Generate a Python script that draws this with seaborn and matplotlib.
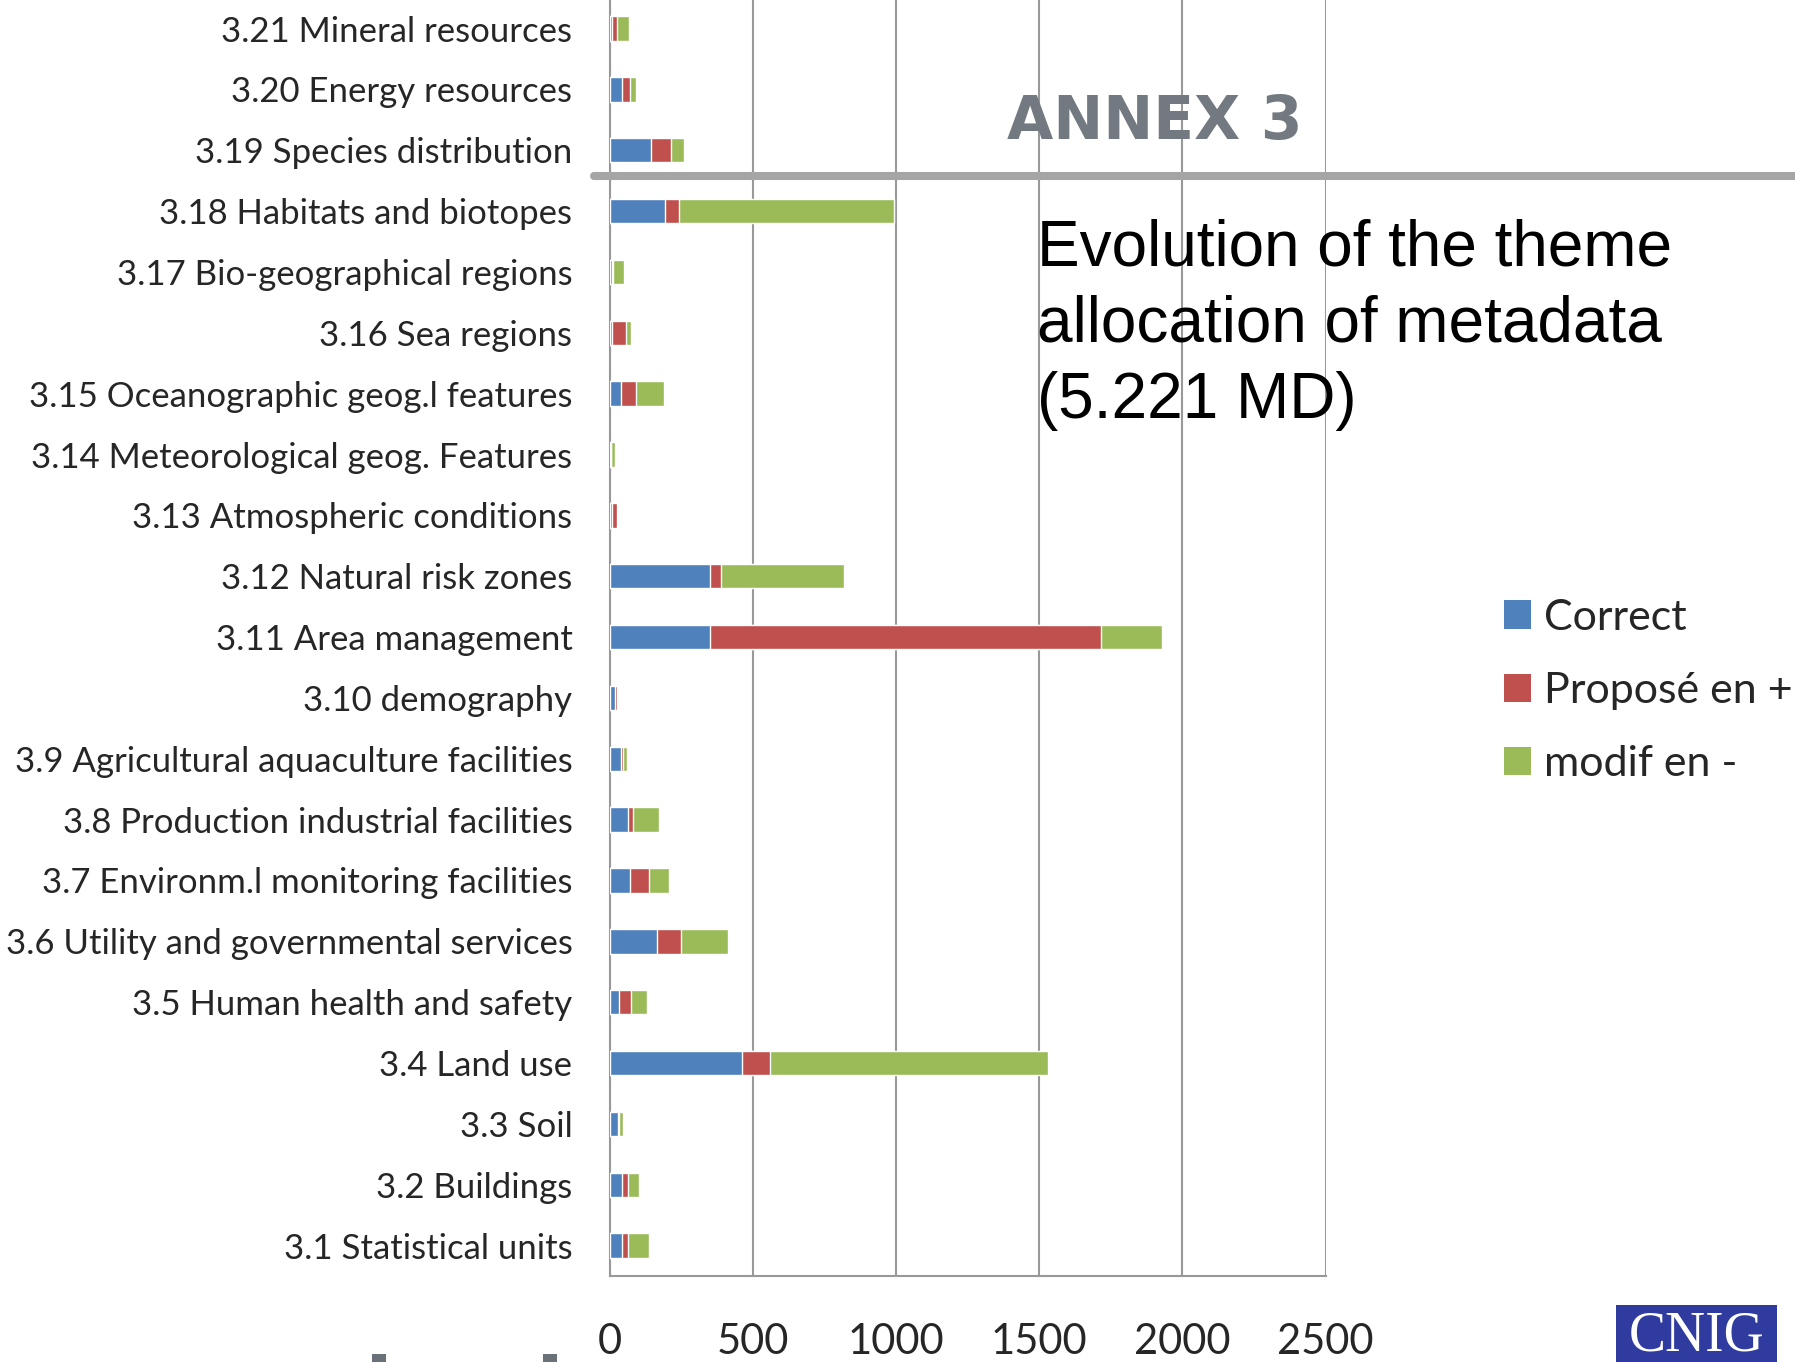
import numpy as np
import pandas as pd
import matplotlib
matplotlib.use("Agg")
import matplotlib.pyplot as plt
from matplotlib.patches import Patch, Rectangle
from matplotlib.lines import Line2D
import seaborn as sns

sns.set_style("white")
plt.rcParams['font.family'] = ['Lato', 'DejaVu Sans']

# themes, top to bottom as in the slide
themes = ["3.21 Mineral resources", "3.20 Energy resources", "3.19 Species distribution",
          "3.18 Habitats and biotopes", "3.17 Bio-geographical regions", "3.16 Sea regions",
          "3.15 Oceanographic geog.l features", "3.14 Meteorological geog. Features",
          "3.13 Atmospheric conditions", "3.12 Natural risk zones", "3.11 Area management",
          "3.10 demography", "3.9 Agricultural aquaculture facilities",
          "3.8 Production industrial facilities", "3.7 Environm.l monitoring facilities",
          "3.6 Utility and governmental services", "3.5 Human health and safety",
          "3.4 Land use", "3.3 Soil", "3.2 Buildings", "3.1 Statistical units"]
correct = [8, 43, 145, 191, 8, 7, 39, 2, 8, 348, 351, 17, 39, 63, 71, 164, 31, 460, 28, 43, 43]
propose = [17, 28, 68, 49, 4, 49, 51, 0, 17, 40, 1365, 8, 8, 16, 65, 84, 44, 100, 3, 19, 19]
modif = [40, 21, 44, 753, 36, 17, 100, 14, 3, 431, 211, 3, 13, 93, 72, 165, 53, 969, 13, 40, 75]
series = ["Correct", "Proposé en +", "modif en -"]
colors = ["#4f81bd", "#c0504d", "#9bbb59"]

df = pd.DataFrame({"theme": themes, "correct": correct, "propose": propose, "modif": modif})
df["cum2"] = df["correct"] + df["propose"]
df["cum3"] = df["cum2"] + df["modif"]

fig = plt.figure(figsize=(17.95, 13.62), dpi=100)
ax = fig.add_axes([0.3398, 0.0631, 0.3987, 0.9383])

# stacked by overlaying cumulative totals
sns.barplot(data=df, y="theme", x="cum3", color=colors[2], width=0.4, orient="h",
            saturation=1, ax=ax, zorder=3)
sns.barplot(data=df, y="theme", x="cum2", color=colors[1], width=0.4, orient="h",
            saturation=1, ax=ax, zorder=3)
sns.barplot(data=df, y="theme", x="correct", color=colors[0], width=0.4, orient="h",
            saturation=1, ax=ax, zorder=3)

ax.set_xlim(0, 2500)
ax.set_ylim(len(themes) - 0.5, -0.5)
ax.set_xticks(np.arange(0, 2501, 500))
ax.set_xlabel("")
ax.set_ylabel("")
ax.grid(axis="x", color="#999999", linewidth=1.5, zorder=0)
ax.grid(axis="y", visible=False)
ax.set_axisbelow(True)
for s in ["top", "right"]:
    ax.spines[s].set_visible(False)
for s in ["left", "bottom"]:
    ax.spines[s].set_color("#999999")
    ax.spines[s].set_linewidth(1.5)

ax.set_yticks(np.arange(-0.5, len(themes), 1), minor=True)
ax.tick_params(axis="y", which="major", length=0, pad=27, labelsize=25)
ax.tick_params(axis="y", which="minor", length=11, width=1.5, color="#999999")
ax.tick_params(axis="x", which="major", length=10, width=1.5, color="#999999",
               pad=24, labelsize=30)

# legend cut by the slide edge
handles = [Patch(facecolor=c, edgecolor="none") for c in colors]
fig.legend(handles, series, loc="upper left", bbox_to_anchor=(0.8379, 0.5605),
           frameon=False, fontsize=31, borderpad=0, borderaxespad=0,
           handlelength=0.63, handleheight=0.63, handletextpad=0.3, labelspacing=0.82)

# slide decorations
fig.add_artist(Line2D([0.331, 1.0], [0.8708, 0.8708], color="#a5a5a5", linewidth=5.8,
                      transform=fig.transFigure, zorder=10))
fig.text(0.561, 0.8983, "ANNEX 3", fontsize=43, fontweight="bold", color="#737980",
         family="DejaVu Sans", va="baseline", ha="left")
for txt, yb in zip(["Evolution of the theme", "allocation of metadata", "(5.221 MD)"],
                   [0.8047, 0.7496, 0.6931]):
    fig.text(0.5777, yb, txt, fontsize=46, family="Liberation Sans", color="black",
             va="baseline", ha="left", zorder=11)

fig.add_artist(Rectangle((0.9003, 0), 0.0897, 0.0419, facecolor="#2f3b9e",
                         edgecolor="none", transform=fig.transFigure))
fig.text(0.9451, 0.019, "CNIG", fontsize=40, family="Liberation Serif", color="white",
         ha="center", va="center")
for x0 in [0.2072, 0.3025]:
    fig.add_artist(Rectangle((x0, 0), 0.0078, 0.0059, facecolor="#6b7178",
                             edgecolor="none", transform=fig.transFigure))

fig.savefig("out.png", dpi=100)
